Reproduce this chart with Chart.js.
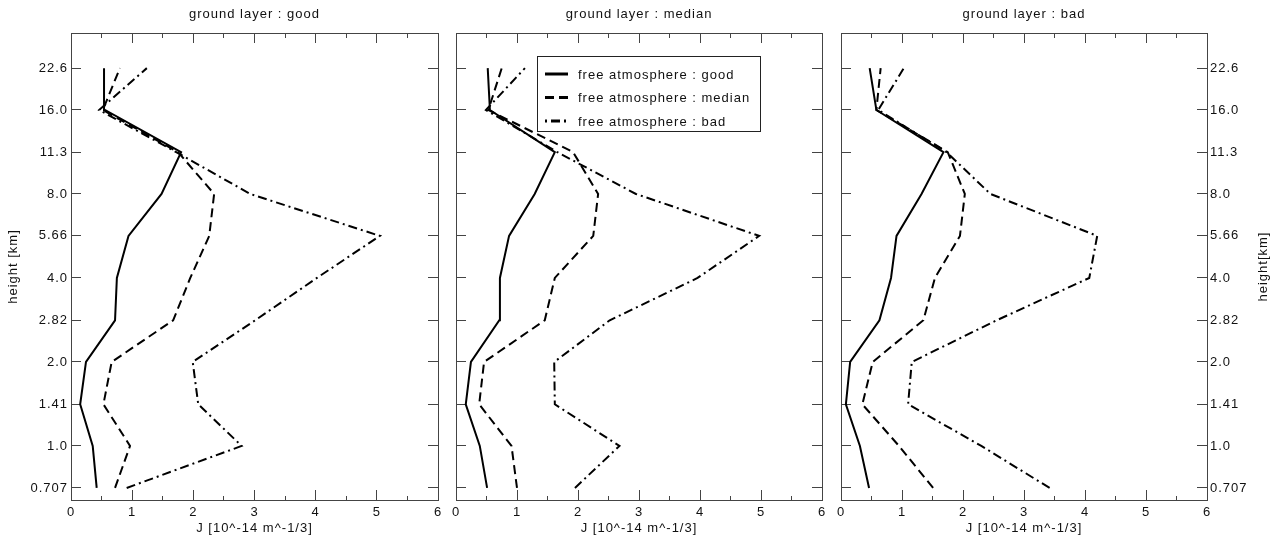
<!DOCTYPE html>
<html>
<head>
<meta charset="utf-8">
<script src="https://cdn.jsdelivr.net/npm/chart.js@4.4.1/dist/chart.umd.min.js"></script>
<style>
  html, body { margin: 0; padding: 0; background: #fff; }
  #wrap { position: relative; width: 1284px; height: 540px; }
  #wrap canvas { position: absolute; left: 0; top: 0; }
</style>
</head>
<body>
<div id="wrap">
  <canvas id="c0" width="1284" height="540"></canvas>
  <canvas id="c1" width="1284" height="540"></canvas>
  <canvas id="c2" width="1284" height="540"></canvas>
</div>
<script>
// heights in km, bottom to top
const heights = [0.707, 1.0, 1.41, 2.0, 2.82, 4.0, 5.66, 8.0, 11.3, 16.0, 22.6];
const heightLabels = ['0.707', '1.0', '1.41', '2.0', '2.82', '4.0', '5.66', '8.0', '11.3', '16.0', '22.6'];
const xTicks = [0, 1, 2, 3, 4, 5, 6];

const seriesLabels = ['free atmosphere : good', 'free atmosphere : median', 'free atmosphere : bad'];
const panelTitles = ['ground layer : good', 'ground layer : median', 'ground layer : bad'];

// ground layer : good
const goodGood   = [0.42, 0.355, 0.15, 0.245, 0.72, 0.75, 0.94, 1.48, 1.80, 0.555, 0.54];
const goodMedian = [0.72, 0.965, 0.53, 0.665, 1.67, 1.95, 2.26, 2.34, 1.75, 0.52, 0.80];
const goodBad    = [0.91, 2.79, 2.08, 1.99, 3.01, 4.02, 5.05, 2.93, 1.72, 0.46, 1.24];

// ground layer : median
const medGood   = [0.51, 0.39, 0.16, 0.245, 0.71, 0.72, 0.87, 1.29, 1.62, 0.556, 0.52];
const medMedian = [1.0, 0.91, 0.38, 0.46, 1.455, 1.62, 2.25, 2.33, 1.92, 0.53, 0.75];
const medBad    = [1.95, 2.68, 1.62, 1.61, 2.52, 3.96, 4.97, 2.95, 1.66, 0.49, 1.13];

// ground layer : bad
const badGood   = [0.46, 0.31, 0.08, 0.15, 0.63, 0.82, 0.91, 1.32, 1.68, 0.58, 0.47];
const badMedian = [1.51, 0.95, 0.35, 0.52, 1.35, 1.54, 1.95, 2.03, 1.75, 0.58, 0.65];
const badBad    = [3.42, 2.3, 1.10, 1.16, 2.55, 4.07, 4.2, 2.45, 1.73, 0.61, 1.03];

const panelSeries = [
  [goodGood, goodMedian, goodBad],
  [medGood, medMedian, medBad],
  [badGood, badMedian, badBad],
];

const dashes = [[], [9, 5], [9, 4, 2, 4]];
const FONT = "'Liberation Sans', Helvetica, Arial, sans-serif";
const INK = '#111';
const FRAME = '#444';

// plot boxes in page pixels
const boxes = [
  { left: 71, right: 438 },
  { left: 456, right: 822 },
  { left: 841, right: 1207 },
];
const TOP = 33, BOTTOM = 500, W = 1284, H = 540;

Chart.defaults.font.family = FONT;
Chart.defaults.font.size = 13;
Chart.defaults.color = INK;

// wider tracking, like the original bitmap fonts
const tracking = {
  id: 'tracking',
  beforeLayout(chart) { chart.ctx.letterSpacing = '1px'; },
  beforeDraw(chart) { chart.ctx.letterSpacing = '1px'; },
};

const legendBox = {
  id: 'legendBox',
  afterDraw(chart) {
    const { ctx, chartArea } = chart;
    const x = chartArea.left + 81, y = chartArea.top + 23, w = 223, h = 75;
    ctx.save();
    ctx.letterSpacing = '1px';
    ctx.strokeStyle = '#222';
    ctx.lineWidth = 1;
    ctx.strokeRect(x + 0.5, y + 0.5, w, h);
    ctx.font = '13px ' + FONT;
    ctx.fillStyle = INK;
    ctx.textBaseline = 'middle';
    chart.data.datasets.forEach((ds, i) => {
      const ly = y + 18 + i * 23.5;
      ctx.strokeStyle = '#000';
      ctx.lineWidth = 3;
      ctx.setLineDash(ds.borderDash);
      ctx.lineDashOffset = i === 2 ? 13 : 0;
      ctx.beginPath();
      ctx.moveTo(x + 8, ly);
      ctx.lineTo(x + 31, ly);
      ctx.stroke();
      ctx.setLineDash([]);
      ctx.fillText(ds.label, x + 41, ly + 1);
    });
    ctx.restore();
  }
};

// right-hand y title reads bottom to top in the original
const rightTitle = {
  id: 'rightTitle',
  afterDraw(chart) {
    const { ctx, chartArea } = chart;
    ctx.save();
    ctx.letterSpacing = '1px';
    ctx.translate(1263, (chartArea.top + chartArea.bottom) / 2);
    ctx.rotate(-Math.PI / 2);
    ctx.font = '13px ' + FONT;
    ctx.fillStyle = INK;
    ctx.textAlign = 'center';
    ctx.textBaseline = 'middle';
    ctx.fillText('height[km]', 0, 0);
    ctx.restore();
  }
};

function xAxis(pos, showLabels, title) {
  const bottom = pos === 'bottom';
  return {
    type: 'linear',
    position: pos,
    min: xTicks[0],
    max: xTicks[xTicks.length - 1],
    ticks: {
      display: showLabels,
      stepSize: 0.5,
      autoSkip: false,
      maxRotation: 0,
      padding: 15,
      callback: v => (xTicks.includes(v) ? String(v) : ''),
    },
    grid: {
      drawOnChartArea: false,
      tickLength: -10,
      tickColor: FRAME,
      tickBorderDash: ctx => (xTicks.includes(ctx.tick.value) ? [] : (bottom ? [5, 60] : [0, 5, 5, 60])),
    },
    border: { color: FRAME },
    title: title ? {
      display: true,
      text: title,
      font: { size: 13 },
      padding: bottom ? { top: 0, bottom: 4 } : { top: 7, bottom: 0 },
    } : { display: false },
    afterFit: s => { s.height = bottom ? H - BOTTOM : TOP; },
  };
}

function yAxis(pos, showLabels, title, box) {
  const left = pos === 'left';
  return {
    type: 'logarithmic',
    position: pos,
    bounds: 'data',
    min: 0.64,
    max: 30.2,
    afterBuildTicks: s => { s.ticks = heights.map(v => ({ value: v })); },
    ticks: {
      display: showLabels,
      autoSkip: false,
      padding: 13,
      callback: (v, i) => heightLabels[i],
    },
    grid: {
      drawOnChartArea: false,
      tickLength: -10,
      tickColor: FRAME,
    },
    border: { color: FRAME },
    title: title ? {
      display: true,
      text: title,
      font: { size: 13 },
      padding: { top: 6, bottom: 0 },
    } : { display: false },
    afterFit: s => { s.width = left ? box.left : W - box.right; },
  };
}

panelSeries.forEach((series, p) => {
  const box = boxes[p];
  const plugins = [tracking];
  if (p === 1) plugins.push(legendBox);
  if (p === 2) plugins.push(rightTitle);

  new Chart(document.getElementById('c' + p), {
    type: 'line',
    data: {
      datasets: series.map((vals, i) => ({
        label: seriesLabels[i],
        data: vals.map((v, k) => ({ x: v, y: heights[k] })),
        borderColor: '#000',
        borderWidth: 2,
        borderDash: dashes[i],
        pointRadius: 0,
        tension: 0,
        fill: false,
      })),
    },
    options: {
      responsive: false,
      animation: false,
      devicePixelRatio: 1,
      layout: { padding: 0 },
      plugins: {
        legend: { display: false },
        tooltip: { enabled: false },
      },
      scales: {
        x: xAxis('bottom', true, 'J [10^-14 m^-1/3]'),
        xTop: xAxis('top', false, panelTitles[p]),
        y: yAxis('left', p === 0, p === 0 ? 'height [km]' : null, box),
        yRight: yAxis('right', p === 2, null, box),
      },
    },
    plugins: plugins,
  });
});
</script>
</body>
</html>
